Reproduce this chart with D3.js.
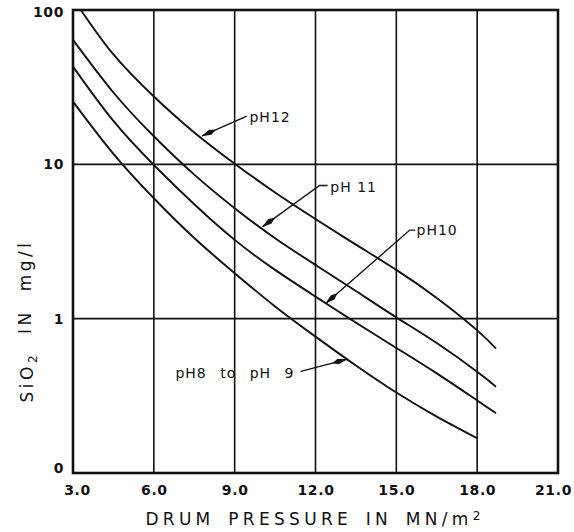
<!DOCTYPE html>
<html><head><meta charset="utf-8">
<script src="https://cdn.jsdelivr.net/npm/d3@7"></script>
<style>
html,body{margin:0;padding:0;background:#fff;}
svg text{font-family:"DejaVu Sans","Liberation Sans",sans-serif;fill:#111;}
</style></head>
<body><svg id="c" width="574" height="532"></svg>
<script>
// ---- data ----
const xTicks = [3, 6, 9, 12, 15, 18, 21];
const xTickLabels = ["3.0", "6.0", "9.0", "12.0", "15.0", "18.0", "21.0"];
const yTicks = [0.1, 1, 10, 100];
const yTickLabels = ["0", "1", "10", "100"];

const seriesNames = ["pH12", "pH11", "pH10", "pH8 to pH 9"];
const pH12_x = [3.29, 4.5, 6, 7.5, 9, 10.5, 12, 13.5, 15, 16.5, 18, 18.7];
const pH12_y = [100, 51.5, 27.5, 16.1, 10.1, 6.57, 4.42, 3.02, 2.07, 1.36, 0.84, 0.64];
const pH11_x = [3, 4.5, 6, 7.5, 9, 10.5, 12, 13.5, 15, 16.5, 18, 18.7];
const pH11_y = [64, 29.2, 15.2, 8.58, 5.2, 3.32, 2.23, 1.51, 1.02, 0.695, 0.453, 0.362];
const pH10_x = [3, 4.5, 6, 7.5, 9, 10.5, 12, 13.5, 15, 16.5, 18, 18.7];
const pH10_y = [43, 19.1, 9.9, 5.51, 3.24, 2.07, 1.39, 0.943, 0.646, 0.442, 0.295, 0.244];
const pH89_x = [3, 4.5, 6, 7.5, 9, 10.5, 12, 13.5, 15, 16.5, 18];
const pH89_y = [25.5, 11.7, 6.03, 3.33, 1.97, 1.20, 0.765, 0.497, 0.332, 0.232, 0.168];

// annotation anchors (data coordinates): label position, leader path, arrow tip
const annLabels = ["pH12", "pH 11", "pH10", "pH8 to pH 9"];
const annText = [[9.55, 18.8], [12.55, 6.6], [15.75, 3.5], [11.22, 0.413]];
const annAnchor = ["start", "start", "start", "end"];
const annPath = [
  [[9.45, 20.5], [7.79, 15.3]],
  [[12.45, 7.3], [12.15, 7.3], [10.04, 3.95]],
  [[15.7, 3.75], [15.5, 3.75], [12.39, 1.26]],
  [[11.45, 0.455], [13.16, 0.545]]
];

// ---- layout ----
const svg = d3.select("#c");
const m = {l: 73, r: 16, t: 10, b: 59};
const W = 574, H = 532;
const x = d3.scaleLinear().domain([3, 21]).range([m.l, W - m.r]);
const y = d3.scaleLog().domain([0.1, 100]).range([H - m.b, m.t]);

const g = svg.append("g");

// grid
g.selectAll(".vg").data(xTicks.slice(1, -1)).enter().append("line")
  .attr("x1", d => x(d)).attr("x2", d => x(d))
  .attr("y1", y(0.1)).attr("y2", y(100))
  .attr("stroke", "#111").attr("stroke-width", 1.6);
g.selectAll(".hg").data(yTicks.slice(1, -1)).enter().append("line")
  .attr("x1", x(3)).attr("x2", x(21))
  .attr("y1", d => y(d)).attr("y2", d => y(d))
  .attr("stroke", "#111").attr("stroke-width", 1.6);

// axes
const xAxis = d3.axisBottom(x).tickValues(xTicks).tickSize(0).tickPadding(12)
  .tickFormat((d, i) => xTickLabels[i]);
const yAxis = d3.axisLeft(y).tickValues(yTicks).tickSize(0).tickPadding(9)
  .tickFormat((d, i) => yTickLabels[i]);
const gx = svg.append("g").attr("transform", `translate(0,${y(0.1)})`).call(xAxis);
const gy = svg.append("g").attr("transform", `translate(${x(3)},0)`).call(yAxis);
[gx, gy].forEach(a => {
  a.select(".domain").remove();
  a.selectAll("text").style("font-size", "14px").style("font-weight", "bold")
    .style("letter-spacing", "0.6px")
    .style("font-family", "'DejaVu Sans',sans-serif").attr("fill", "#111");
});
gx.selectAll(".tick").filter(d => d === 3).select("text").attr("dx", "4");
gx.selectAll(".tick").filter(d => d === 21).select("text").attr("dx", "-5");
gy.selectAll(".tick").filter(d => d === 0.1).select("text").attr("dy", "-0.05em");
gy.selectAll(".tick").filter(d => d === 100).select("text").attr("dy", "0.45em");

// frame
svg.append("rect").attr("x", x(3)).attr("y", y(100))
  .attr("width", x(21) - x(3)).attr("height", y(0.1) - y(100))
  .attr("fill", "none").attr("stroke", "#111").attr("stroke-width", 2.6);

// curves
const series = [[pH12_x, pH12_y], [pH11_x, pH11_y], [pH10_x, pH10_y], [pH89_x, pH89_y]];
const line = d3.line().x(d => x(d[0])).y(d => y(d[1])).curve(d3.curveNatural);
series.forEach((s, i) => {
  const pts = s[0].map((v, j) => [v, s[1][j]]);
  g.append("path").datum(pts).attr("d", line)
    .attr("fill", "none").attr("stroke", "#111").attr("stroke-width", 1.9)
    .attr("class", "series").attr("data-name", seriesNames[i]);
});

// arrow marker
svg.append("defs").append("marker").attr("id", "ah")
  .attr("viewBox", "0 0 16 6").attr("refX", 15).attr("refY", 3)
  .attr("markerWidth", 16).attr("markerHeight", 6)
  .attr("markerUnits", "userSpaceOnUse").attr("orient", "auto")
  .append("path").attr("d", "M0,3 L6,0.2 L16,3 L6,5.8 Z").attr("fill", "#111");

const lp = d3.line().x(d => x(d[0])).y(d => y(d[1]));
annPath.forEach(p => {
  svg.append("path").datum(p).attr("d", lp).attr("fill", "none")
    .attr("stroke", "#111").attr("stroke-width", 1.4).attr("marker-end", "url(#ah)");
});
annLabels.forEach((t, i) => {
  svg.append("text").attr("x", x(annText[i][0])).attr("y", y(annText[i][1]))
    .attr("text-anchor", annAnchor[i]).style("font-size", "14px")
    .style("letter-spacing", "1px").style("word-spacing", i === 3 ? "8px" : "0px").text(t);
});

// titles
const xt = svg.append("text").attr("x", 315).attr("y", 525).attr("text-anchor", "middle")
  .style("font-size", "17px").style("letter-spacing", "4.3px").style("word-spacing", "4px");
xt.append("tspan").text("DRUM PRESSURE IN MN/m");
xt.append("tspan").attr("dy", "-0.45em").style("font-size", "12px").text("2");

const yt = svg.append("text").attr("transform", "translate(33,321) rotate(-90)")
  .attr("text-anchor", "middle").style("font-size", "17px")
  .style("letter-spacing", "3.5px").style("word-spacing", "9px");
yt.append("tspan").text("SiO");
yt.append("tspan").attr("dy", "0.35em").style("font-size", "12px").text("2");
yt.append("tspan").attr("dy", "-0.35em").text(" IN mg/l");
</script></body></html>
